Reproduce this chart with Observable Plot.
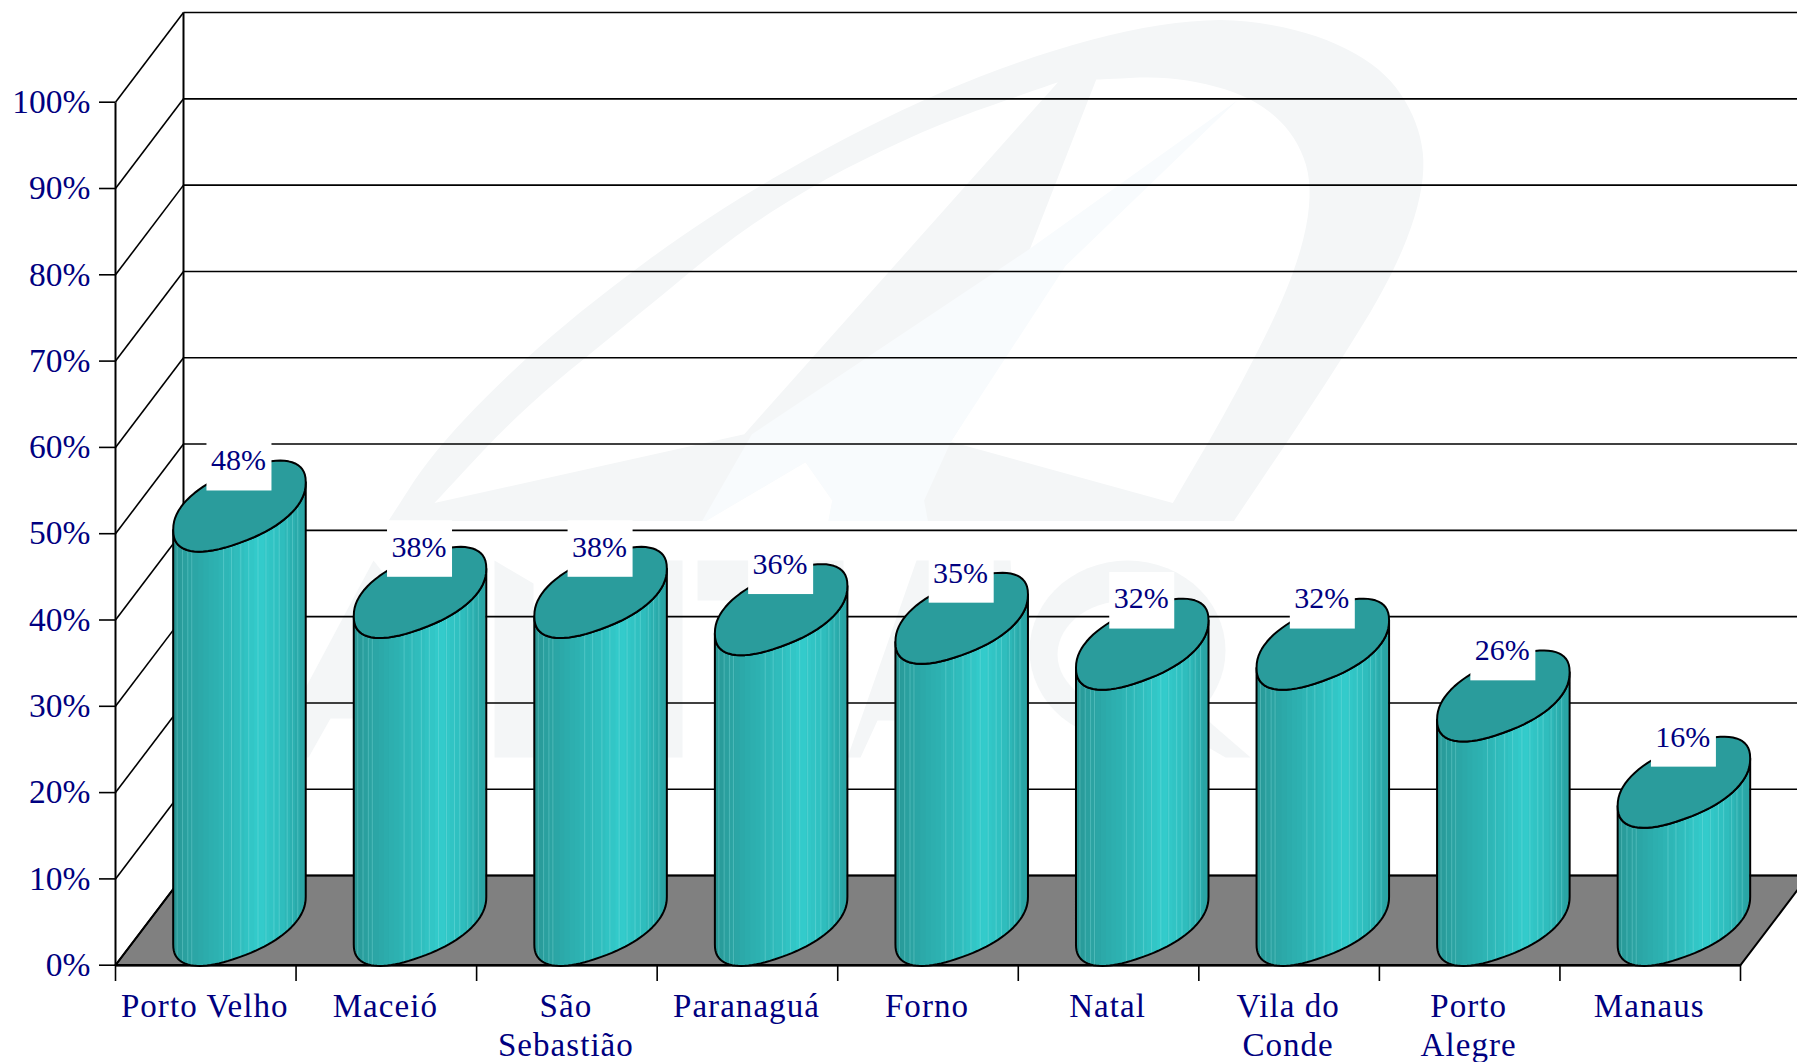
<!doctype html>
<html><head><meta charset="utf-8">
<style>html,body{margin:0;padding:0;background:#fff}svg{display:block}</style>
<script src="https://cdn.jsdelivr.net/npm/d3@7"></script>
<script src="https://cdn.jsdelivr.net/npm/@observablehq/plot@0.6"></script>
</head><body><div id="chart"></div>
<script>
const categories = ["Porto Velho","Maceió","São\nSebastião","Paranaguá","Forno","Natal","Vila do\nConde","Porto\nAlegre","Manaus"];
const values = [48,38,38,36,35,32,32,26,16];
const percentTicks = [0,10,20,30,40,50,60,70,80,90,100];
const categoryTicks = [0,1,2,3,4,5,6,7,8,9];

const navy = "#000080", capFill = "#2a9c9c", floorFill = "#808080", logoGray = "#f4f6f7";
const depthX = 0.3766, depthY = 10.39;
const barLeft = 0.3196, barWidth = 0.734;
const sin0 = 0.41, shear = 0.265, squareness = 0.87;
const xEnd = 9.4;

// sheared super-ellipse cross-section of a cylinder, in chart units
const soft = w => Math.sign(w) * Math.pow(Math.abs(w), squareness);
const rimY = (base, t) => base + depthY * (0.5 - sin0 * soft(Math.sin(t)) + shear * soft(Math.cos(t)));
const rimX = (i, t) => i + barLeft + barWidth * (0.5 + 0.5 * soft(Math.cos(t)));
const angleAt = u => { const c = 2 * u - 1; return Math.acos(Math.sign(c) * Math.pow(Math.abs(c), 1 / squareness)); };
const angles = n => d3.range(n + 1).map(k => k / n);

const caps = [], outlines = [], strips = [], seams = [], boxes = [];
const ramp = d3.scaleLinear()
  .domain([0, 0.08, 0.25, 0.45, 0.66, 0.82, 0.95, 1])
  .range(["#289492","#2a9f9e","#2cacac","#2fb9b9","#33cccc","#2fbebe","#2aa9a9","#2aa2a2"]);
const seamAt = [.03,.07,.11,.14,.38,.44,.51,.57,.64,.70,.76,.80,.86,.90,.94];
values.forEach((v, i) => {
  angles(72).forEach(k => { const t = k * 2 * Math.PI; caps.push({i, x: rimX(i, t), y: rimY(v, t)}); });
  const half = angles(48).map(k => k * Math.PI);
  half.slice().reverse().forEach(t => outlines.push({i, x: rimX(i, t), y: rimY(0, t)}));
  half.forEach(t => outlines.push({i, x: rimX(i, t), y: rimY(v, t)}));
  outlines.push({i, x: rimX(i, Math.PI), y: rimY(0, Math.PI)});
  const low = u => rimY(0, angleAt(u));
  const high = u => rimY(v, angleAt(u));
  const N = 26;
  d3.range(N).forEach(j => {
    const a = j / N, b = Math.min(1, (j + 1.6) / N), c = ramp((j + 0.5) / N);
    d3.range(7).map(k => a + (b - a) * k / 6).forEach(u => strips.push({
      id: i * 100 + j, x: i + barLeft + barWidth * u, y1: low(u), y2: high(u), c
    }));
  });
  seamAt.forEach(u => seams.push({x: i + barLeft + barWidth * u, y1: low(u), y2: high(u)}));
  boxes.push({x1: i + barLeft + barWidth / 2 - 0.18, x2: i + barLeft + barWidth / 2 + 0.18,
              y1: v + 6.95, y2: v + 13.5, tx: i + barLeft + barWidth / 2 - 0.006, ty: v + 10.45, label: v + "%"});
});

// faint logo behind the chart
const chaikin = (pts, n = 3) => {
  for (let r = 0; r < n; r++) {
    const out = [pts[0]];
    for (let k = 0; k < pts.length - 1; k++) {
      const [a, b] = [pts[k], pts[k + 1]];
      out.push([a[0] * .75 + b[0] * .25, a[1] * .75 + b[1] * .25], [a[0] * .25 + b[0] * .75, a[1] * .25 + b[1] * .75]);
    }
    out.push(pts[pts.length - 1]);
    pts = out;
  }
  return pts;
};
const fromA = ([X, Y]) => [300 + X / 1.307, Y / 1.96];
const toUnits = ([px, py]) => ({x: (px - 115) / 180.55, y: (964.7 - py) / 8.63});
const logoArc = pts => chaikin(pts).map(fromA).map(toUnits);
const logoPoly = pts => pts.map(fromA).map(toUnits);
const pxPoly = pts => pts.map(toUnits);
const ring = (cx, cy, rx, ry) => angles(60).map(k => toUnits([cx + rx * Math.cos(k * 2 * Math.PI), cy + ry * Math.sin(k * 2 * Math.PI)]));

const logoOuter = logoArc([[115,1020],[175,880],[300,690],[450,510],[600,360],[800,200],[1000,85],[1180,30],[1310,55],[1410,125],[1460,230],[1472,350],[1435,520],[1350,730],[1220,1020]]);
const logoHoleLeft = logoArc([[175,985],[290,800],[430,630],[600,420],[800,260],[990,160]]).concat(logoPoly([[580,850]]));
const logoHoleRight = logoArc([[1040,155],[1140,148],[1240,185],[1300,260],[1325,370],[1300,540],[1220,780],[1140,985]]).concat(logoPoly([[850,865],[890,770],[950,500]]));
const logoWing = logoPoly([[950,490],[1225,195],[1000,520],[850,865],[815,980],[820,1020],[690,1020],[695,980],[660,905],[530,1020],[525,1020],[590,850]]);
const logoHoleLow = logoPoly([[530,1020],[660,905],[695,980],[690,1020]]);
const letterShapes = [
  [[373,560],[268,757],[308,757],[330,718],[440,718],[455,757],[482,757],[482,700],[373,560]],
  [[494,560],[533,583],[533,757],[494,757]],
  [[640,560],[682,560],[682,757],[640,757]],
  [[697,560],[843,560],[843,600],[800,600],[800,757],[750,757],[750,600],[697,600]],
  [[916,560],[847,757],[860,757],[877,720],[980,720],[990,757],[1020,757],[1010,560]],
  [[1180,695],[1213,725],[1250,757],[1225,757],[1170,725]]
].map((p, k) => pxPoly(p).map(d => ({...d, k})));

const wallLines = percentTicks.map(d => ({y: d + depthY, x1: depthX, x2: xEnd}));
const sideLines = percentTicks.map(d => ({x1: 0, y1: d, x2: depthX, y2: d + depthY}));

const plot = Plot.plot({
  width: 1797, height: 1062,
  marginLeft: 115, marginRight: 57, marginTop: 12, marginBottom: 97,
  x: {type: "linear", domain: [0, 9], range: [115, 1740], axis: null},
  y: {type: "linear", domain: [0, 100], range: [964.7, 101.7], axis: null},
  style: {fontFamily: "'Liberation Serif', serif", background: "#fff"},
  marks: [
    Plot.line(logoOuter, {x: "x", y: "y", fill: logoGray, stroke: null}),
    Plot.line(logoHoleLeft, {x: "x", y: "y", fill: "#ffffff", stroke: null}),
    Plot.line(logoHoleRight, {x: "x", y: "y", fill: "#ffffff", stroke: null}),
    Plot.line(logoWing, {x: "x", y: "y", fill: "#f8fbfd", stroke: null}),
    Plot.line(logoHoleLow, {x: "x", y: "y", fill: "#ffffff", stroke: null}),
    Plot.line(letterShapes.flat(), {x: "x", y: "y", z: "k", fill: logoGray, stroke: null}),
    Plot.line(ring(1127, 650, 98, 90), {x: "x", y: "y", fill: logoGray, stroke: null}),
    Plot.line(ring(1127, 654, 70, 54), {x: "x", y: "y", fill: "#ffffff", stroke: null}),

    // floor
    Plot.line([{x:0,y:0},{x:9,y:0},{x:9+depthX,y:depthY},{x:depthX,y:depthY},{x:0,y:0}], {x:"x", y:"y", fill: floorFill, stroke: "#000", strokeWidth: 2}),
    // back wall gridlines
    Plot.link(wallLines, {x1: "x1", x2: "x2", y1: "y", y2: "y", stroke: "#000", strokeWidth: 1.6}),
    Plot.link([{x: depthX, y1: depthY, y2: 100 + depthY}], {x1: "x", x2: "x", y1: "y1", y2: "y2", stroke: "#000", strokeWidth: 2}),
    // side wall diagonals
    Plot.link(sideLines, {x1: "x1", y1: "y1", x2: "x2", y2: "y2", stroke: "#000", strokeWidth: 1.6}),
    // front axes
    Plot.link([{x: 0, y1: 0, y2: 100}], {x1: "x", x2: "x", y1: "y1", y2: "y2", stroke: "#000", strokeWidth: 2}),
    Plot.link([{y: 0, x1: 0, x2: 9}], {x1: "x1", x2: "x2", y1: "y", y2: "y", stroke: "#000", strokeWidth: 2.4}),
    Plot.axisY({ticks: percentTicks, tickFormat: d => d + "%", tickSize: 16, tickPadding: 9, fontSize: 33.5, label: null, stroke: "#000", strokeWidth: 1.6, fill: navy}),
    Plot.axisX({ticks: categoryTicks, tickFormat: () => "", tickSize: 16, label: null, stroke: "#000", strokeWidth: 1.6}),

    // cylinders
    Plot.area(strips, {x1: "x", y1: "y1", y2: "y2", z: "id", fill: "c", curve: "linear"}),
    Plot.link(seams, {x1: "x", x2: "x", y1: "y1", y2: "y2", stroke: "#8ee6e6", strokeOpacity: 0.35, strokeWidth: 1}),
    Plot.line(outlines, {x: "x", y: "y", z: "i", stroke: "#000", strokeWidth: 2, curve: "linear"}),
    Plot.line(caps, {x: "x", y: "y", z: "i", fill: capFill, stroke: "#000", strokeWidth: 2, curve: "linear"}),

    // value labels
    Plot.rect(boxes, {x1: "x1", x2: "x2", y1: "y1", y2: "y2", fill: "#fff", stroke: null}),
    Plot.text(boxes, {x: "tx", y: "ty", text: "label", fill: navy, fontSize: 30, textAnchor: "middle", lineAnchor: "middle"}),

    // category labels
    Plot.text(categories, {x: (d, i) => i + 0.5, y: () => -2.75, dx: -1, text: d => d, fill: navy, fontSize: 33, lineAnchor: "top", lineHeight: 1.18, textAnchor: "middle"})
  ]
});
document.getElementById("chart").append(plot);
const flat = categories.map(c => c.replace("\n", ""));
plot.querySelectorAll("text").forEach(t => { if (flat.includes(t.textContent)) t.style.letterSpacing = "1.05px"; });
</script></body></html>
